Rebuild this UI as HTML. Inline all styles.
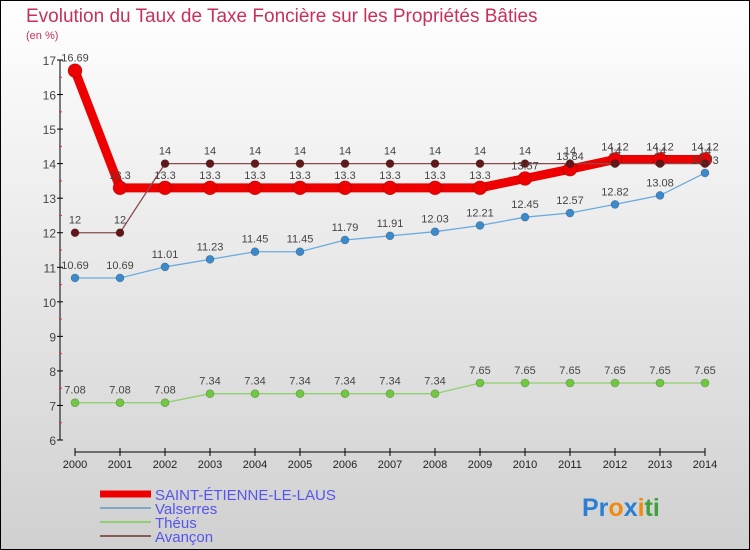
<!DOCTYPE html>
<html><head><meta charset="utf-8"><style>
html,body{margin:0;padding:0}
body{width:750px;height:550px;overflow:hidden;font-family:"Liberation Sans",sans-serif}
#frame{position:absolute;left:0;top:0;width:748px;height:548px;border:1px solid #000;background:linear-gradient(#ffffff,#d0d0d0)}
</style></head><body>
<div id="frame">
<svg id="chart" width="750" height="550" style="position:absolute;left:-1px;top:-1px">
<text x="26" y="22" font-size="19" fill="#c8305a">Evolution du Taux de Taxe Foncière sur les Propriétés Bâties</text>
<text x="26" y="39" font-size="11" fill="#c8305a">(en %)</text>
<g id="axes"></g><g id="series"></g><g id="labels"></g>
<g>
<line x1="100" y1="494" x2="151" y2="494" stroke="#ee0000" stroke-width="7"/>
<text x="155" y="500" font-size="15" fill="#5555ee">SAINT-ÉTIENNE-LE-LAUS</text>
<line x1="100" y1="508" x2="151" y2="508" stroke="#7fa8c8" stroke-width="2"/>
<text x="155" y="514" font-size="15" fill="#5555ee">Valserres</text>
<line x1="100" y1="522" x2="151" y2="522" stroke="#90d070" stroke-width="2"/>
<text x="155" y="528" font-size="15" fill="#5555ee">Théus</text>
<line x1="100" y1="536" x2="151" y2="536" stroke="#8a5a5a" stroke-width="2"/>
<text x="155" y="542" font-size="15" fill="#5555ee">Avançon</text>
</g>
<text x="582" y="516" font-size="25" font-weight="bold"><tspan fill="#2a7fd4">Pr</tspan><tspan fill="#f08a10">o</tspan><tspan fill="#2a7fd4">x</tspan><tspan fill="#f08a10">i</tspan><tspan fill="#40a040">ti</tspan></text>
</svg></div>
<script>
const years=[2000,2001,2002,2003,2004,2005,2006,2007,2008,2009,2010,2011,2012,2013,2014];
const yTicks=[6,7,8,9,10,11,12,13,14,15,16,17];
const stEtienne=[16.69,13.3,13.3,13.3,13.3,13.3,13.3,13.3,13.3,13.3,13.57,13.84,14.12,14.12,14.12];
const valserres=[10.69,10.69,11.01,11.23,11.45,11.45,11.79,11.91,12.03,12.21,12.45,12.57,12.82,13.08,13.73];
const theus=[7.08,7.08,7.08,7.34,7.34,7.34,7.34,7.34,7.34,7.65,7.65,7.65,7.65,7.65,7.65];
const avancon=[12,12,14,14,14,14,14,14,14,14,14,14,14,14,14];
const NS="http://www.w3.org/2000/svg";
const X=i=>75+i*45;
const Y=v=>440-(v-6)*34.545;
function mk(t,a,p){const e=document.createElementNS(NS,t);for(const k in a)e.setAttribute(k,a[k]);p.appendChild(e);return e;}
const ax=document.getElementById('axes');
const ln=mk('line',{x1:60,y1:Y(17),x2:60,y2:Y(6),stroke:'#000'},ax);


yTicks.forEach(v=>{
 mk('line',{x1:57,y1:Y(v),x2:63,y2:Y(v),stroke:'#000'},ax);
 if(v<17)mk('line',{x1:59,y1:Y(v+0.5),x2:62,y2:Y(v+0.5),stroke:'#e03030'},ax);
 const t=mk('text',{x:56,y:Y(v)+5,'text-anchor':'end','font-size':12,fill:'#444'},ax);
 t.textContent=v;
 
 
});
const xl=mk('line',{x1:X(0),y1:452,x2:X(14),y2:452,stroke:'#000'},ax);


years.forEach((yr,i)=>{
 mk('line',{x1:X(i),y1:448,x2:X(i),y2:456,stroke:'#000'},ax);
 const t=mk('text',{x:X(i),y:468,'text-anchor':'middle','font-size':11,fill:'#222'},ax);
 t.textContent=yr;
 
 
});
const sg=document.getElementById('series'),lg=document.getElementById('labels');
function series(vals,name,color,w,r,dot){
 const p=mk('polyline',{points:vals.map((v,i)=>X(i)+','+Y(v)).join(' '),fill:'none',stroke:color,'stroke-width':w},sg);
 
 
 vals.forEach((v,i)=>{
  const c=mk('circle',{cx:X(i),cy:Y(v),r:r,fill:dot,stroke:'rgba(0,0,0,0.3)','stroke-width':0.6},sg);
  
  
  const t=mk('text',{x:X(i),y:Y(v)-9,'text-anchor':'middle','font-size':11,fill:'#444'},lg);
  t.textContent=String(v);
  
  
 });
}
series(theus,'theus','#90d070',1.3,4,'#70c840');
series(valserres,'valserres','#6aaade',1.3,4,'#3a8acc');
series(stEtienne,'saint-etienne','#ee0000',9,7,'#ee0000');
series(avancon,'avancon','#8a4a4a',1.3,4,'#601818');
</script>
</body></html>
